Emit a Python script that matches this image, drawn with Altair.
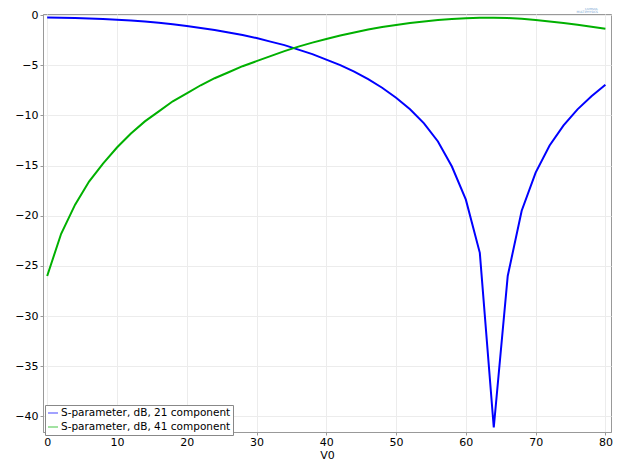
import altair as alt
import pandas as pd

v0 = list(range(0, 82, 2))
s21 = [-0.25, -0.27, -0.3, -0.35, -0.4, -0.47, -0.55, -0.65, -0.78, -0.93,
       -1.1, -1.3, -1.5, -1.75, -2.0, -2.3, -2.65, -3.0, -3.45, -3.9,
       -4.45, -5.0, -5.65, -6.4, -7.25, -8.25, -9.4, -10.8, -12.6, -15.1,
       -18.4, -23.7, -41.1, -26.0, -19.5, -15.7, -13.0, -11.0, -9.4, -8.1,
       -6.95]
s41 = [-26.0, -21.8, -18.9, -16.6, -14.8, -13.2, -11.8, -10.6, -9.6, -8.6,
       -7.8, -7.0, -6.3, -5.7, -5.1, -4.6, -4.1, -3.6, -3.15, -2.75,
       -2.4, -2.05, -1.75, -1.45, -1.2, -1.0, -0.8, -0.65, -0.5, -0.4,
       -0.33, -0.28, -0.27, -0.3, -0.38, -0.5, -0.65, -0.8, -0.98, -1.18,
       -1.38]
series_names = ["S-parameter, dB, 21 component", "S-parameter, dB, 41 component"]
series_colors = ["#0000ff", "#00b000"]
x_ticks = [0, 10, 20, 30, 40, 50, 60, 70, 80]
y_ticks = [0, -5, -10, -15, -20, -25, -30, -35, -40]
logo_lines = ["COMSOL", "MULTIPHYSICS"]

rows = []
for x, a, b in zip(v0, s21, s41):
    rows.append({"V0": x, "val": a, "series": series_names[0]})
    rows.append({"V0": x, "val": b, "series": series_names[1]})
df = pd.DataFrame(rows)

font = "DejaVu Sans"

lines = alt.Chart(df).mark_line(strokeWidth=2, clip=True).encode(
    x=alt.X("V0:Q", title="V0",
            scale=alt.Scale(domain=[-0.6, 80.8], nice=False, zero=False),
            axis=alt.Axis(values=x_ticks, grid=True, gridColor="#ececec",
                          domainColor="#999999", tickColor="#999999", tickSize=3,
                          labelFont=font, labelFontSize=11, labelColor="#000000",
                          titleFont=font, titleFontSize=11, titleFontWeight="normal",
                          titleColor="#000000", titlePadding=2, labelPadding=1,
                          labelFlush=False)),
    y=alt.Y("val:Q", title=None,
            scale=alt.Scale(domain=[-41.55, 0.1], nice=False, zero=False),
            axis=alt.Axis(values=y_ticks, grid=True, gridColor="#ececec",
                          domainColor="#999999", tickColor="#999999", tickSize=3,
                          labelFont=font, labelFontSize=11, labelColor="#000000",
                          labelPadding=2, labelFlush=False)),
    color=alt.Color("series:N",
                    scale=alt.Scale(domain=series_names, range=series_colors),
                    legend=alt.Legend(title=None, orient="none", legendX=2, legendY=391,
                                      fillColor="#ffffff", strokeColor="#888888",
                                      padding=2, symbolType="stroke", symbolSize=100,
                                      symbolStrokeWidth=1.2, labelFont=font,
                                      labelFontSize=10.5, labelColor="#000000",
                                      labelLimit=400, rowPadding=2, labelOffset=2,
                                      symbolOpacity=0.6)),
    detail="series:N",
)

logo = alt.Chart(pd.DataFrame({"t": logo_lines, "yy": [-5.5, -2.5]})).mark_text(
    fontSize=3, color="#6f9fd0", align="right", font=font
).encode(x=alt.value(555), y=alt.Y("yy:Q", scale=None), text="t:N")

chart = alt.layer(lines, logo).properties(
    width=568, height=418,
    padding={"left": 35, "top": 6, "right": 6, "bottom": 28},
    autosize=alt.AutoSizeParams(type="none"),
).configure_view(stroke="#999999", strokeWidth=1)

chart.save("out.html", embed_options={"renderer": "svg", "actions": False})
